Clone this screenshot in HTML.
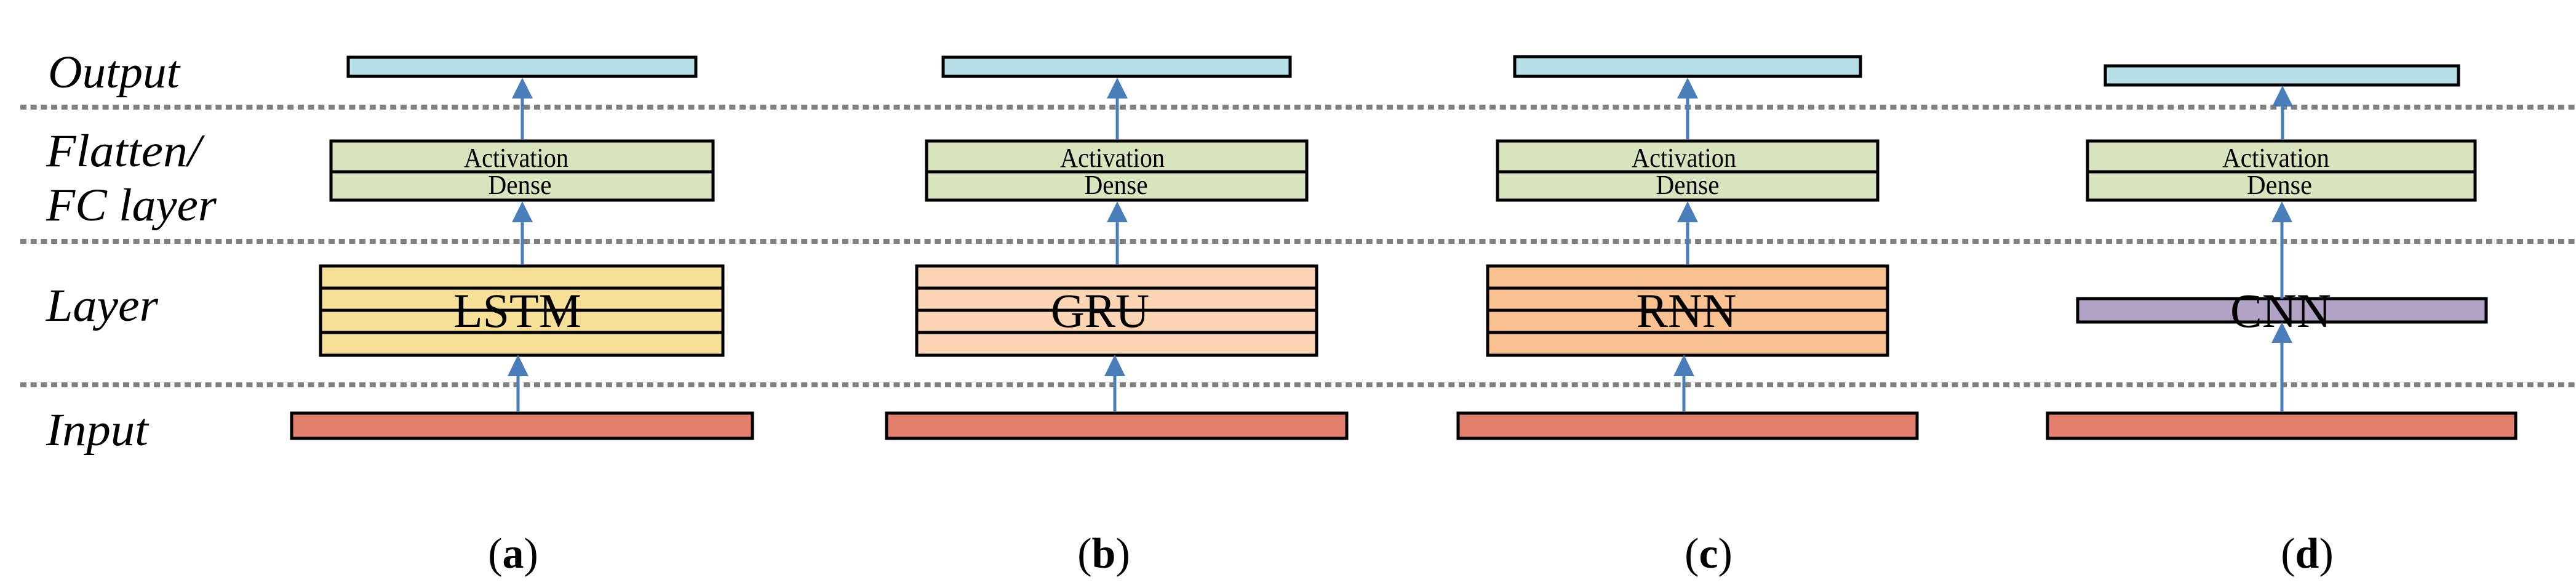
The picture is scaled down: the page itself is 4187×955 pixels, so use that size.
<!DOCTYPE html>
<html><head><meta charset="utf-8"><style>html,body{margin:0;padding:0;background:#fff}svg{display:block}svg text{font-family:"Liberation Serif","DejaVu Serif",serif}</style></head>
<body>
<svg width="4187" height="955" viewBox="0 0 4187 955" xmlns="http://www.w3.org/2000/svg">
<g stroke="#808080" stroke-width="8" stroke-dasharray="10 6.7">
<line x1="33" y1="174" x2="4187" y2="174"/>
<line x1="33" y1="392" x2="4187" y2="392"/>
<line x1="33" y1="625" x2="4187" y2="625"/>
</g>
<g font-style="italic" font-size="75" fill="#000">
<text x="78" y="142" textLength="214" lengthAdjust="spacingAndGlyphs">Output</text>
<text x="75" y="270" textLength="252" lengthAdjust="spacingAndGlyphs">Flatten/</text>
<text x="75" y="358" textLength="277" lengthAdjust="spacingAndGlyphs">FC layer</text>
<text x="75" y="521" textLength="182" lengthAdjust="spacingAndGlyphs">Layer</text>
<text x="75" y="723" textLength="166" lengthAdjust="spacingAndGlyphs">Input</text>
</g>
<g stroke="#000" stroke-width="5">
<rect x="566" y="93" width="565" height="31" fill="#b7dfe8"/>
<rect x="1533" y="93" width="564" height="31" fill="#b7dfe8"/>
<rect x="2462" y="92" width="562" height="32" fill="#b7dfe8"/>
<rect x="3422" y="107" width="574" height="31" fill="#b7dfe8"/>
<rect x="538" y="229" width="621" height="96" fill="#d8e4bd"/>
<line x1="538" y1="279" x2="1159" y2="279"/>
<rect x="1506" y="229" width="618" height="96" fill="#d8e4bd"/>
<line x1="1506" y1="279" x2="2124" y2="279"/>
<rect x="2434" y="229" width="618" height="96" fill="#d8e4bd"/>
<line x1="2434" y1="279" x2="3052" y2="279"/>
<rect x="3393" y="229" width="630" height="96" fill="#d8e4bd"/>
<line x1="3393" y1="279" x2="4023" y2="279"/>
<rect x="521" y="432" width="654" height="145" fill="#f6df97"/>
<rect x="1490" y="432" width="650" height="145" fill="#fcd5b5"/>
<rect x="2418" y="432" width="650" height="145" fill="#f9c090"/>
<line x1="521" y1="468" x2="1175" y2="468"/><line x1="521" y1="504" x2="1175" y2="504"/><line x1="521" y1="540" x2="1175" y2="540"/>
<line x1="1490" y1="468" x2="2140" y2="468"/><line x1="1490" y1="504" x2="2140" y2="504"/><line x1="1490" y1="540" x2="2140" y2="540"/>
<line x1="2418" y1="468" x2="3068" y2="468"/><line x1="2418" y1="504" x2="3068" y2="504"/><line x1="2418" y1="540" x2="3068" y2="540"/>
<rect x="3377" y="485" width="664" height="38" fill="#b1a2c6"/>
<rect x="474" y="671" width="749" height="41" fill="#e27f6c"/>
<rect x="1441" y="671" width="748" height="41" fill="#e27f6c"/>
<rect x="2370" y="671" width="746" height="41" fill="#e27f6c"/>
<rect x="3328" y="671" width="761" height="41" fill="#e27f6c"/>
</g>
<g fill="#000" text-anchor="middle">
<g font-size="44">
<text x="839" y="271" textLength="170" lengthAdjust="spacingAndGlyphs">Activation</text>
<text x="845" y="315" textLength="103" lengthAdjust="spacingAndGlyphs">Dense</text>
<text x="1808" y="271" textLength="170" lengthAdjust="spacingAndGlyphs">Activation</text>
<text x="1814" y="315" textLength="103" lengthAdjust="spacingAndGlyphs">Dense</text>
<text x="2737" y="271" textLength="170" lengthAdjust="spacingAndGlyphs">Activation</text>
<text x="2743" y="315" textLength="103" lengthAdjust="spacingAndGlyphs">Dense</text>
<text x="3699" y="271" textLength="174" lengthAdjust="spacingAndGlyphs">Activation</text>
<text x="3705" y="315" textLength="106" lengthAdjust="spacingAndGlyphs">Dense</text>
</g>
<g font-size="78">
<text x="841" y="531" textLength="208" lengthAdjust="spacingAndGlyphs">LSTM</text>
<text x="1788" y="531" textLength="160" lengthAdjust="spacingAndGlyphs">GRU</text>
<text x="2741" y="531" textLength="163" lengthAdjust="spacingAndGlyphs">RNN</text>
<text x="3707" y="531" textLength="164" lengthAdjust="spacingAndGlyphs">CNN</text>
</g>
<g font-size="70">
<text x="834" y="922">(<tspan font-weight="bold">a</tspan>)</text>
<text x="1794" y="922">(<tspan font-weight="bold">b</tspan>)</text>
<text x="2777" y="922">(<tspan font-weight="bold">c</tspan>)</text>
<text x="3750" y="922">(<tspan font-weight="bold">d</tspan>)</text>
</g>
</g>
<g stroke="#4a7ebb" stroke-width="5" fill="none">
<line x1="842" y1="669" x2="842" y2="608"/><line x1="849" y1="430" x2="849" y2="358"/><line x1="849" y1="227" x2="849" y2="157"/>
<line x1="1812" y1="669" x2="1812" y2="608"/><line x1="1816" y1="430" x2="1816" y2="358"/><line x1="1816" y1="227" x2="1816" y2="157"/>
<line x1="2737" y1="669" x2="2737" y2="608"/><line x1="2743" y1="430" x2="2743" y2="358"/><line x1="2743" y1="227" x2="2743" y2="157"/>
<line x1="3709" y1="669" x2="3709" y2="555"/><line x1="3709" y1="485" x2="3709" y2="358"/><line x1="3710" y1="227" x2="3710" y2="170"/>
</g>
<g fill="#4a7ebb">
<polygon points="842,576 825,611 859,611"/><polygon points="849,327 832,361 866,361"/><polygon points="849,126 832,160 866,160"/>
<polygon points="1812,576 1795,611 1829,611"/><polygon points="1816,327 1799,361 1833,361"/><polygon points="1816,126 1799,160 1833,160"/>
<polygon points="2737,576 2720,611 2754,611"/><polygon points="2743,327 2726,361 2760,361"/><polygon points="2743,126 2726,160 2760,160"/>
<polygon points="3709,523 3692,557 3726,557"/><polygon points="3709,327 3692,361 3726,361"/><polygon points="3710,139 3693,173 3727,173"/>
</g>
</svg>
</body></html>
